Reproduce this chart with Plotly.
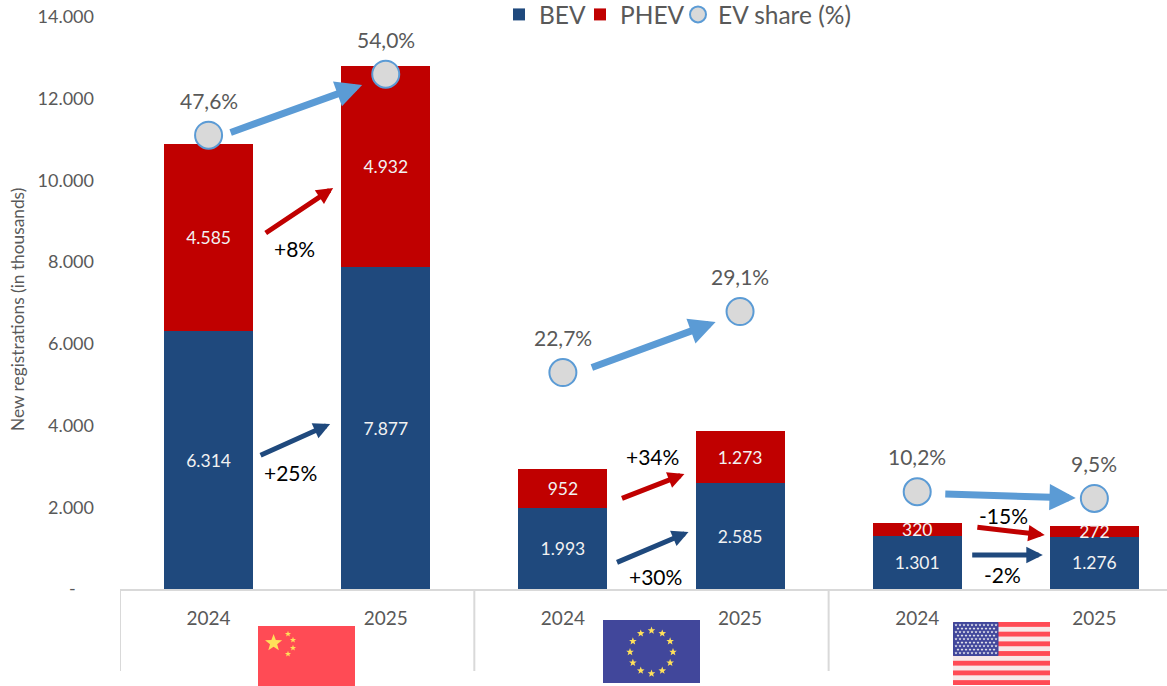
import base64
import math
import plotly.graph_objects as go

# ---- data ----
x_pos = [0, 1, 2, 3, 4, 5]
year_labels = ["2024", "2025", "2024", "2025", "2024", "2025"]
bev = [6314, 7877, 1993, 2585, 1301, 1276]
phev = [4585, 4932, 952, 1273, 320, 272]
ev_share = [47.6, 54.0, 22.7, 29.1, 10.2, 9.5]
y_ticks = [0, 2000, 4000, 6000, 8000, 10000, 12000, 14000]
y_tick_labels = ["-\u00a0\u00a0\u00a0\u00a0", "2.000", "4.000", "6.000", "8.000", "10.000", "12.000", "14.000"]

# arrows: tail x, tail y, head x, head y (data units)
share_arrows = [(0.116, 11160, 0.867, 12335), (2.155, 5409, 2.862, 6534), (4.150, 2325, 4.895, 2227)]
phev_arrows = [(0.314, 8688, 0.703, 9814), (2.325, 2203, 2.686, 2814), (4.331, 1517, 4.720, 1322)]
bev_arrows = [(0.285, 3255, 0.686, 4038), (2.297, 636, 2.709, 1395), (4.302, 832, 4.709, 832)]
change_labels = ["+8%", "+25%", "+34%", "+30%", "-15%", "-2%"]
change_x = [0.483, 0.460, 2.506, 2.523, 4.489, 4.483]
change_y = [8345, 2863, 3255, 294, 1787, 343]
group_edges = [-0.5, 1.5, 3.5]

BLUE, RED, SKY = "#1f497d", "#c00000", "#5b9bd5"
GREY = "#595959"
FONT = "Lato, Open Sans, sans-serif"
W, H, L, T, B = 1167, 686, 120, 17, 97
PW, PH = W - L, H - T - B


def star(cx, cy, r, fill):
    pts = []
    for i in range(10):
        a = -math.pi / 2 + i * math.pi / 5
        rr = r if i % 2 == 0 else r * 0.42
        pts.append(f"{cx + rr * math.cos(a):.2f},{cy + rr * math.sin(a):.2f}")
    return f'<polygon points="{" ".join(pts)}" fill="{fill}"/>'


def uri(body, w=97, h=63):
    svg = (f'<svg xmlns="http://www.w3.org/2000/svg" width="{w}" height="{h}" '
           f'viewBox="0 0 {w} {h}" preserveAspectRatio="none">{body}</svg>')
    return "data:image/svg+xml;base64," + base64.b64encode(svg.encode()).decode()


YEL = "#ffe15a"
china = f'<rect width="97" height="60" fill="#ff4b55"/>' + star(15.6, 17, 9, YEL) + \
    star(30, 8, 3.2, YEL) + star(35, 14, 3.2, YEL) + star(35, 22, 3.2, YEL) + star(30, 28, 3.2, YEL)
eu = '<rect width="97" height="63" fill="#41479b"/>'
for k in range(12):
    a = k * math.pi / 6
    eu += star(48.5 + 21.5 * math.sin(a), 32 - 21.5 * math.cos(a), 4, YEL)
us = '<rect width="97" height="63" fill="#f7e9e9"/>'
for k in range(0, 13, 2):
    us += f'<rect y="{k * 63 / 13:.2f}" width="97" height="{63 / 13:.2f}" fill="#ff4b55"/>'
us += '<rect width="45.5" height="34" rx="1" fill="#41479b"/>'
for r in range(9):
    for c in range(11 if r % 2 == 0 else 10):
        us += star((3 if r % 2 == 0 else 5) + c * 4, 3 + r * 3.5, 1.6, "#f5f5f5")


def flag(body, x0, y0, x1, y1):
    return dict(source=uri(body, x1 - x0, y1 - y0), xref="paper", yref="paper", layer="above",
                x=(x0 - L) / PW, y=(H - B - y0) / PH, sizex=(x1 - x0) / PW, sizey=(y1 - y0) / PH,
                sizing="stretch", xanchor="left", yanchor="top")


fig = go.Figure()
bar_text = dict(textposition="inside", insidetextanchor="middle", textangle=0, constraintext="none",
                texttemplate="%{y:,.0f}", textfont=dict(color="#f2f2f2", size=17.5, family=FONT))
fig.add_bar(x=x_pos, y=bev, name="BEV", width=0.503, marker=dict(color=BLUE, line_width=0),
            legendwidth=36, **bar_text)
fig.add_bar(x=x_pos, y=phev, name="PHEV", width=0.503, marker=dict(color=RED, line_width=0),
            legendwidth=53, **bar_text)
fig.add_scatter(x=x_pos, y=ev_share, name="EV share (%)", yaxis="y2", mode="markers",
                marker=dict(size=27, color="#d9d9d9", line=dict(color=SKY, width=2)))

ann = []
for xv, yv in zip(x_pos, ev_share):
    ann.append(dict(x=xv, y=yv, xref="x", yref="y2", yshift=35, showarrow=False,
                    text=f"{yv:.1f}%".replace(".", ","), font=dict(size=21, color=GREY, family=FONT)))
for arrows, col, w, size in ((share_arrows, SKY, 7, 0.75), (phev_arrows, RED, 5, 0.66), (bev_arrows, BLUE, 5, 0.66)):
    for x0, y0, x1, y1 in arrows:
        ann.append(dict(x=x1, y=y1, ax=x0, ay=y0, xref="x", yref="y", axref="x", ayref="y", text="",
                        showarrow=True, arrowhead=2, arrowsize=size, arrowwidth=w, arrowcolor=col))
for t, xv, yv in zip(change_labels, change_x, change_y):
    ann.append(dict(x=xv, y=yv, xref="x", yref="y", text=t, showarrow=False,
                    font=dict(size=21, color="#000000", family=FONT)))
ann.append(dict(x=(17 - L) / PW, xref="paper", xanchor="center", y=(H - B - 310) / PH, yref="paper", textangle=-90,
                text="New registrations (in thousands)", showarrow=False,
                font=dict(size=17.3, color=GREY, family=FONT)))

shapes = [dict(type="line", xref="x", yref="paper", x0=e, x1=e, y0=0, y1=-(671 - (H - B)) / PH,
               line=dict(color="#d9d9d9", width=2)) for e in group_edges]

fig.update_layout(
    width=W, height=H, autosize=False, paper_bgcolor="white", plot_bgcolor="white",
    margin=dict(l=L, r=0, t=T, b=B, autoexpand=False), barmode="stack", separators=",.",
    font=dict(family=FONT, color=GREY), uniformtext=dict(mode=False),
    xaxis=dict(range=[-0.5, 5.41], tickmode="array", tickvals=x_pos, ticktext=year_labels,
               showgrid=False, zeroline=False, showline=True, linecolor="#d9d9d9", linewidth=2,
               ticks="", tickfont=dict(size=19, color=GREY, family=FONT), ticklabelstandoff=11),
    yaxis=dict(range=[0, 14000], tickmode="array", tickvals=y_ticks, ticktext=y_tick_labels,
               showgrid=False, zeroline=False, showline=False, ticks="",
               tickfont=dict(size=18, color=GREY, family=FONT), ticklabelstandoff=25),
    yaxis2=dict(range=[0, 60], overlaying="y", side="right", visible=False),
    legend=dict(orientation="h", x=(499 - L) / PW, xanchor="left", y=(H - B + 8) / PH, yanchor="top",
                font=dict(size=24.5, color=GREY, family=FONT), bgcolor="rgba(0,0,0,0)", traceorder="normal"),
    annotations=ann, shapes=shapes,
    images=[flag(china, 258, 626, 355, 686), flag(eu, 603, 620, 700, 683), flag(us, 953, 622, 1050, 685)],
)
fig.write_html("out.html", config={"displayModeBar": False},
               post_script="document.body.style.margin='0';")
